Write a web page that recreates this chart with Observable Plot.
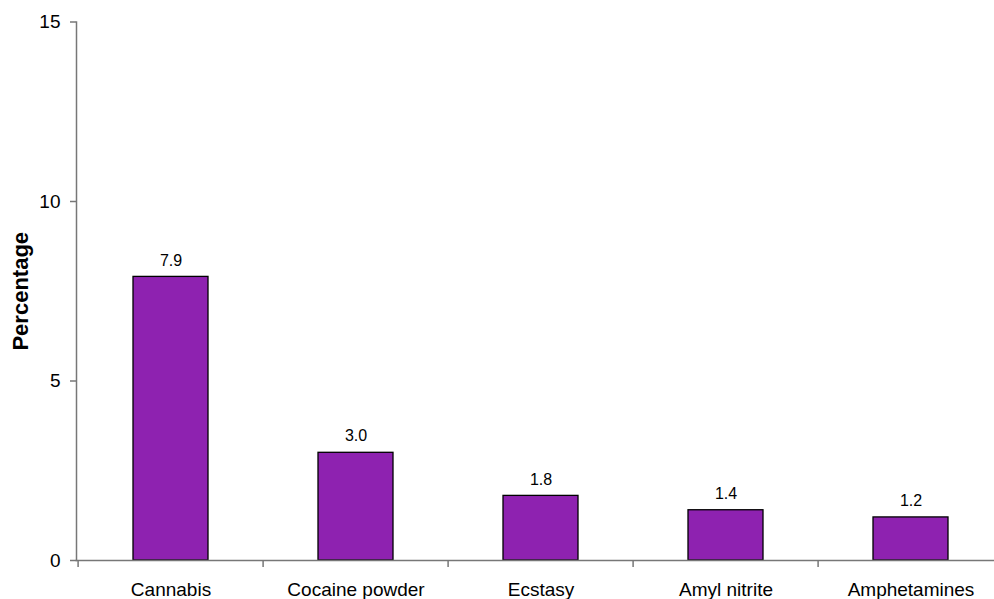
<!DOCTYPE html>
<html>
<head>
<meta charset="utf-8">
<script src="https://cdn.jsdelivr.net/npm/d3@7"></script>
<script src="https://cdn.jsdelivr.net/npm/@observablehq/plot@0.6"></script>
<style>
  html, body { margin: 0; padding: 0; background: #fff; }
  svg { font-family: "Liberation Sans", Arial, sans-serif; }
</style>
</head>
<body>
<div id="chart"></div>
<script>
const categories = ["Cannabis", "Cocaine powder", "Ecstasy", "Amyl nitrite", "Amphetamines"];
const values = [7.9, 3.0, 1.8, 1.4, 1.2];
const yTicks = [0, 5, 10, 15];
const yLabel = "Percentage";

const data = categories.map((c, i) => ({category: c, value: values[i]}));

const W = 994, H = 599;
const plotLeft = 76, plotRight = 1005, plotTop = 21.5, plotBottom = 560;
const step = (plotRight - plotLeft) / categories.length;

const chart = Plot.plot({
  width: W,
  height: H,
  marginLeft: plotLeft,
  marginRight: 0,
  marginTop: plotTop,
  marginBottom: H - plotBottom,
  style: {fontFamily: "Liberation Sans, Arial, sans-serif", background: "white", color: "black"},
  x: {domain: categories, range: [plotLeft, plotRight], paddingInner: 0.595, paddingOuter: 0.2975, align: 0.5},
  y: {domain: [0, 15], range: [plotBottom, plotTop], ticks: yTicks},
  marks: [
    Plot.barY(data, {x: "category", y: "value", fill: "#8E22B0", stroke: "black", strokeWidth: 1.3}),
    Plot.text(data, {x: "category", y: "value", text: d => d.value.toFixed(1), dy: -16.5, fontSize: 16, fill: "black"}),
    Plot.frame({anchor: "left", stroke: "#777", strokeWidth: 1.5}),
    Plot.frame({anchor: "bottom", stroke: "#777", strokeWidth: 1.5}),
    Plot.axisY({ticks: yTicks, tickSize: 6, tickPadding: 10, fontSize: 19, stroke: "#777", strokeWidth: 1.5, label: null, tickFormat: d => String(d)}),
    Plot.axisX({tickSize: 7, tickFormat: () => "", dx: -step / 2, stroke: "#777", strokeWidth: 1.5, label: null}),
    Plot.axisX({tickSize: 0, tickPadding: 22, fontSize: 19, label: null}),
    Plot.text([yLabel], {frameAnchor: "left", textAnchor: "middle", dx: -56, rotate: -90, fontWeight: "bold", fontSize: 22, fill: "black"})
  ]
});
document.getElementById("chart").appendChild(chart);
</script>
</body>
</html>
